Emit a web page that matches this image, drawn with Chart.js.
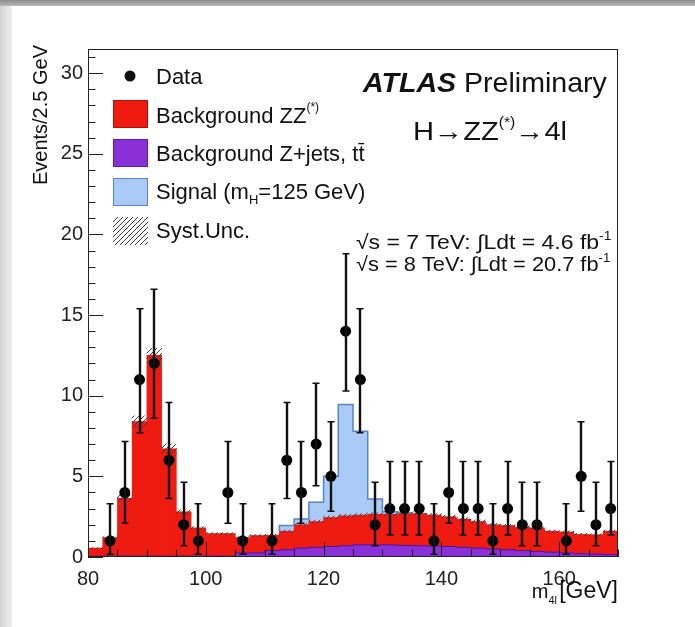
<!DOCTYPE html>
<html>
<head>
<meta charset="utf-8">
<script src="https://cdn.jsdelivr.net/npm/chart.js@4.4.1/dist/chart.umd.min.js"></script>
<style>
  html, body { margin: 0; padding: 0; background: #fff; }
  body { width: 695px; height: 627px; position: relative; overflow: hidden; }
  #topbar { position: absolute; left: 0; top: 0; width: 695px; height: 6px; background: linear-gradient(#8c8c8c, #b8b8b8); }
  #leftbar { position: absolute; left: 0; top: 6px; width: 12px; height: 621px; background: linear-gradient(to right, #d4d4d4, #efefef); }
  #wrap { position: absolute; left: 0; top: 0; width: 695px; height: 627px; }
</style>
</head>
<body>
<div id="topbar"></div>
<div id="leftbar"></div>
<div id="wrap"><canvas id="h4l" width="695" height="627"></canvas></div>
<script>
/* H -> ZZ(*) -> 4l, m4l distribution, 2.5 GeV bins */

const binCentres = [
  81.25, 83.75, 86.25, 88.75, 91.25, 93.75, 96.25, 98.75,
  101.25, 103.75, 106.25, 108.75, 111.25, 113.75, 116.25, 118.75,
  121.25, 123.75, 126.25, 128.75, 131.25, 133.75, 136.25, 138.75,
  141.25, 143.75, 146.25, 148.75, 151.25, 153.75, 156.25, 158.75,
  161.25, 163.75, 166.25, 168.75
];
const binWidth = 2.5;

// background Z+jets, ttbar (purple, bottom of the stack)
const zjets = [
  0.05, 0.05, 0.05, 0.05, 0.05, 0.05, 0.05, 0.05, 0.05, 0.05,
  0.25, 0.25, 0.4, 0.45, 0.55, 0.6, 0.65, 0.7, 0.75, 0.75,
  0.75, 0.72, 0.7, 0.68, 0.65, 0.6, 0.55, 0.5, 0.45, 0.4,
  0.35, 0.3, 0.25, 0.2, 0.18, 0.15
];

// background ZZ(*) (red)
const zz = [
  0.5, 1.15, 3.6, 8.35, 12.45, 6.65, 2.75, 1.75, 1.4, 1.4,
  0.95, 1.08, 0.95, 1.15, 1.45, 1.6, 1.8, 1.85, 1.85, 1.9,
  1.9, 1.98, 2.0, 1.92, 1.85, 1.75, 1.65, 1.5, 1.5, 1.45,
  1.45, 1.3, 1.3, 1.2, 1.2, 1.45
];

// signal mH = 125 GeV (light blue, top of the stack)
const signal = [
  0, 0, 0, 0, 0, 0, 0, 0, 0, 0,
  0, 0, 0, 0.35, 0.35, 1.2, 2.55, 6.9, 5.2, 0.95,
  0.15, 0.05, 0, 0, 0, 0, 0, 0, 0, 0,
  0, 0, 0, 0, 0, 0
];

// systematic uncertainty on the total background (hatched band, +/-)
const syst = [
  0.03, 0.06, 0.2, 0.35, 0.45, 0.3, 0.12, 0.08, 0.06, 0.06,
  0.05, 0.06, 0.06, 0.07, 0.08, 0.09, 0.1, 0.1, 0.1, 0.1,
  0.1, 0.1, 0.1, 0.1, 0.1, 0.09, 0.09, 0.08, 0.08, 0.08,
  0.07, 0.07, 0.07, 0.06, 0.06, 0.07
];

// observed events (null = empty bin, not drawn)
const counts = [
  null, 1, 4, 11, 12, 6, 2, 1, null, 4,
  1, null, 1, 6, 4, 7, 5, 14, 11, 2,
  3, 3, 3, 1, 4, 3, 3, 1, 3, 2,
  2, null, 1, 5, 2, 3
];
const errLow = [
  null, 0.17, 2.09, 7.7, 8.6, 3.62, 0.7, 0.17, null, 2.09,
  0.17, null, 0.17, 3.62, 2.09, 4.42, 2.84, 10.3, 7.7, 0.7,
  1.37, 1.37, 1.37, 0.17, 2.09, 1.37, 1.37, 0.17, 1.37, 0.7,
  0.7, null, 0.17, 2.84, 0.7, 1.37
];
const errHigh = [
  null, 3.3, 7.16, 15.4, 16.6, 9.58, 4.64, 3.3, null, 7.16,
  3.3, null, 3.3, 9.58, 7.16, 10.77, 8.38, 18.8, 15.4, 4.64,
  5.92, 5.92, 5.92, 3.3, 7.16, 5.92, 5.92, 3.3, 5.92, 4.64,
  4.64, null, 3.3, 8.38, 4.64, 5.92
];

const xTicks = [80, 100, 120, 140, 160];
const yTicks = [0, 5, 10, 15, 20, 25, 30];
const xMinorStep = 5;
const yMinorStep = 1;

const RED = '#ef1a10';
const PURPLE = '#8a30d8';
const BLUE = '#a9cbf5';
const BLUE_LINE = '#5a84c8';
const FONT = "'Liberation Sans', Arial, Helvetica, sans-serif";

const canvas = document.getElementById('h4l');
const ctx0 = canvas.getContext('2d');

// diagonal hatching for the syst. band
const hatchTile = document.createElement('canvas');
hatchTile.width = 5; hatchTile.height = 5;
const ht = hatchTile.getContext('2d');
ht.strokeStyle = '#3c3c3c';
ht.lineWidth = 1;
ht.beginPath();
ht.moveTo(-1, 6); ht.lineTo(6, -1);
ht.moveTo(-1, 1); ht.lineTo(1, -1);
ht.moveTo(4, 6); ht.lineTo(6, 4);
ht.stroke();
const hatch = ctx0.createPattern(hatchTile, 'repeat');

const bkgTotal = binCentres.map((c, i) => zjets[i] + zz[i]);

// step outline of the signal on top of the stack
const sigOutline = [];
binCentres.forEach((c, i) => {
  if (signal[i] <= 0) return;
  const lo = c - binWidth / 2;
  const top = bkgTotal[i] + signal[i];
  if (i === 0 || signal[i - 1] <= 0) sigOutline.push({ x: lo, y: bkgTotal[i] });
  sigOutline.push({ x: lo, y: top });
  if (i === binCentres.length - 1 || signal[i + 1] <= 0) {
    sigOutline.push({ x: lo + binWidth, y: top });
    sigOutline.push({ x: lo + binWidth, y: bkgTotal[i + 1] });
  }
});

// step outline of the Z+jets histogram
const zjOutline = binCentres.map((c, i) => ({ x: c - binWidth / 2, y: zjets[i] }));
zjOutline.push({ x: binCentres[binCentres.length - 1] + binWidth / 2, y: zjets[zjets.length - 1] });

const dataPoints = binCentres
  .map((c, i) => ({ x: c, y: counts[i] }))
  .filter(p => p.y !== null);

// draw text made of runs (superscripts / subscripts), optional horizontal stretch
function textRuns(ctx, x, y, runs, align, sx) {
  sx = sx || 1;
  let total = 0;
  runs.forEach(r => { ctx.font = r.font; total += ctx.measureText(r.t).width; });
  ctx.save();
  ctx.translate(x, y);
  ctx.scale(sx, 1);
  let cx = align === 'right' ? -total : 0;
  runs.forEach(r => {
    ctx.font = r.font;
    ctx.fillText(r.t, cx, r.dy || 0);
    cx += ctx.measureText(r.t).width;
  });
  ctx.restore();
}

const errorBars = {
  id: 'errorBars',
  afterDatasetsDraw(chart) {
    const { ctx, scales: { x, y } } = chart;
    ctx.save();
    ctx.strokeStyle = '#111';
    binCentres.forEach((c, i) => {
      if (counts[i] === null) return;
      const px = Math.round(x.getPixelForValue(c));
      const top = y.getPixelForValue(errHigh[i]);
      const bot = y.getPixelForValue(errLow[i]);
      ctx.lineWidth = 2.4;
      ctx.beginPath(); ctx.moveTo(px, top); ctx.lineTo(px, bot); ctx.stroke();
      ctx.lineWidth = 1.5;
      ctx.beginPath();
      ctx.moveTo(px - 3.5, top); ctx.lineTo(px + 3.5, top);
      ctx.moveTo(px - 3.5, bot); ctx.lineTo(px + 3.5, bot);
      ctx.stroke();
    });
    ctx.restore();
  }
};

const frameAndText = {
  id: 'frameAndText',
  afterDraw(chart) {
    const { ctx, chartArea: a, scales: { x, y } } = chart;
    ctx.save();

    // frame
    ctx.strokeStyle = '#222';
    ctx.lineWidth = 1;
    ctx.strokeRect(a.left + 0.5, a.top + 0.5, a.right - a.left - 1, a.bottom - a.top - 1);

    // inward ticks
    ctx.beginPath();
    for (let v = y.min; v <= y.max; v += yMinorStep) {
      const py = Math.round(y.getPixelForValue(v)) + 0.5;
      const len = yTicks.includes(v) ? 15 : 7.5;
      ctx.moveTo(a.left, py); ctx.lineTo(a.left + len, py);
    }
    for (let v = x.min; v <= x.max; v += xMinorStep) {
      const px = Math.round(x.getPixelForValue(v)) + 0.5;
      const len = xTicks.includes(v) ? 15 : 7.5;
      ctx.moveTo(px, a.bottom); ctx.lineTo(px, a.bottom - len);
    }
    ctx.stroke();

    ctx.fillStyle = '#111';
    ctx.textBaseline = 'alphabetic';
    ctx.textAlign = 'left';

    // axis titles
    ctx.save();
    ctx.translate(47, 45);
    ctx.rotate(-Math.PI / 2);
    ctx.textAlign = 'right';
    ctx.font = '20px ' + FONT;
    ctx.fillText('Events/2.5 GeV', 0, 0);
    ctx.restore();

    textRuns(ctx, a.right, 598, [
      { t: 'm', font: '20px ' + FONT },
      { t: '4l', font: '11px ' + FONT, dy: 6 },
      { t: ' ', font: '8px ' + FONT },
      { t: '[GeV]', font: '23px ' + FONT }
    ], 'right');

    // legend
    const lx = 113, tx = 156, bw = 35, bh = 28;
    ctx.beginPath();
    ctx.arc(130, 76, 5.5, 0, Math.PI * 2);
    ctx.fill();
    ctx.font = '22px ' + FONT;
    ctx.fillText('Data', tx, 84);

    const boxes = [
      { fill: RED, line: '#b81008', cy: 114 },
      { fill: PURPLE, line: '#5f1ea0', cy: 153 },
      { fill: BLUE, line: BLUE_LINE, cy: 192 },
      { fill: hatch, line: null, cy: 231 }
    ];
    boxes.forEach(b => {
      ctx.fillStyle = b.fill;
      ctx.fillRect(lx, b.cy - bh / 2, bw, bh);
      if (b.line) {
        ctx.strokeStyle = b.line;
        ctx.strokeRect(lx + 0.5, b.cy - bh / 2 + 0.5, bw - 1, bh - 1);
      }
    });
    ctx.fillStyle = '#111';
    textRuns(ctx, tx, 123, [
      { t: 'Background ZZ', font: '22px ' + FONT },
      { t: '(*)', font: '12px ' + FONT, dy: -12 }
    ]);
    textRuns(ctx, tx, 161, [{ t: 'Background Z+jets, t\u0074\u0304', font: '22px ' + FONT }]);
    textRuns(ctx, tx, 199, [
      { t: 'Signal (m', font: '22px ' + FONT },
      { t: 'H', font: '13px ' + FONT, dy: 5 },
      { t: '=125 GeV)', font: '22px ' + FONT }
    ]);
    textRuns(ctx, tx, 238, [{ t: 'Syst.Unc.', font: '22px ' + FONT }]);

    // labels
    textRuns(ctx, 363, 92, [
      { t: 'ATLAS', font: 'italic bold 28px ' + FONT },
      { t: ' Preliminary', font: '28px ' + FONT }
    ], 'left', 1.02);
    textRuns(ctx, 413, 140, [
      { t: 'H\u2192ZZ', font: '26px ' + FONT },
      { t: '(*)', font: '14px ' + FONT, dy: -13 },
      { t: '\u21924l', font: '26px ' + FONT }
    ], 'left', 1.12);
    textRuns(ctx, 356, 249, [
      { t: '\u221As = 7 TeV: \u222BLdt = 4.6 fb', font: '20px ' + FONT },
      { t: '-1', font: '12px ' + FONT, dy: -9 }
    ], 'left', 1.15);
    textRuns(ctx, 356, 271, [
      { t: '\u221As = 8 TeV: \u222BLdt = 20.7 fb', font: '20px ' + FONT },
      { t: '-1', font: '12px ' + FONT, dy: -9 }
    ], 'left', 1.09);

    ctx.restore();
  }
};

const barCommon = {
  grouped: false,
  barPercentage: 1,
  categoryPercentage: 1,
  borderWidth: 0
};

new Chart(canvas, {
  type: 'bar',
  data: {
    datasets: [
      {
        type: 'line',
        label: 'Data',
        data: dataPoints,
        stack: 'data',
        showLine: false,
        pointRadius: 5.5,
        pointBackgroundColor: '#000',
        pointBorderWidth: 0,
        order: 0
      },
      {
        type: 'line',
        label: 'signal outline',
        data: sigOutline,
        stack: 'sigLine',
        stepped: true,
        borderColor: BLUE_LINE,
        borderWidth: 1.5,
        pointRadius: 0,
        order: 1
      },
      {
        type: 'line',
        label: 'zjets outline',
        data: zjOutline,
        stack: 'zjLine',
        stepped: true,
        borderColor: '#4e148c',
        borderWidth: 1,
        pointRadius: 0,
        order: 1
      },
      {
        label: 'Syst.Unc.',
        data: binCentres.map((c, i) => ({ x: c, y: [bkgTotal[i] - syst[i], bkgTotal[i] + syst[i]] })),
        stack: 'unc',
        backgroundColor: hatch,
        ...barCommon,
        order: 2
      },
      {
        label: 'Background Z+jets, tt',
        data: binCentres.map((c, i) => ({ x: c, y: zjets[i] })),
        stack: 'bkg',
        backgroundColor: PURPLE,
        ...barCommon,
        order: 3
      },
      {
        label: 'Background ZZ(*)',
        data: binCentres.map((c, i) => ({ x: c, y: zz[i] })),
        stack: 'bkg',
        backgroundColor: RED,
        ...barCommon,
        order: 4
      },
      {
        label: 'Signal (mH=125 GeV)',
        data: binCentres.map((c, i) => ({ x: c, y: signal[i] })),
        stack: 'bkg',
        backgroundColor: BLUE,
        ...barCommon,
        order: 5
      }
    ]
  },
  options: {
    responsive: false,
    animation: false,
    events: [],
    layout: { padding: { left: 0, top: 49, right: 77, bottom: 0 } },
    plugins: {
      legend: { display: false },
      tooltip: { enabled: false }
    },
    scales: {
      x: {
        type: 'linear',
        min: 80,
        max: 170,
        offset: false,
        grid: { display: false, drawTicks: false },
        border: { display: false },
        afterBuildTicks: s => { s.ticks = xTicks.map(v => ({ value: v })); },
        afterFit: s => { s.height = 70; },
        ticks: {
          autoSkip: false,
          maxRotation: 0,
          padding: 10,
          color: '#222',
          font: { family: FONT, size: 20 }
        }
      },
      y: {
        min: 0,
        max: 31.5,
        stacked: true,
        grid: { display: false, drawTicks: false },
        border: { display: false },
        afterBuildTicks: s => { s.ticks = yTicks.map(v => ({ value: v })); },
        afterFit: s => { s.width = 88; },
        ticks: {
          padding: 5,
          color: '#222',
          font: { family: FONT, size: 20 }
        }
      }
    }
  },
  plugins: [errorBars, frameAndText]
});
</script>
</body>
</html>
